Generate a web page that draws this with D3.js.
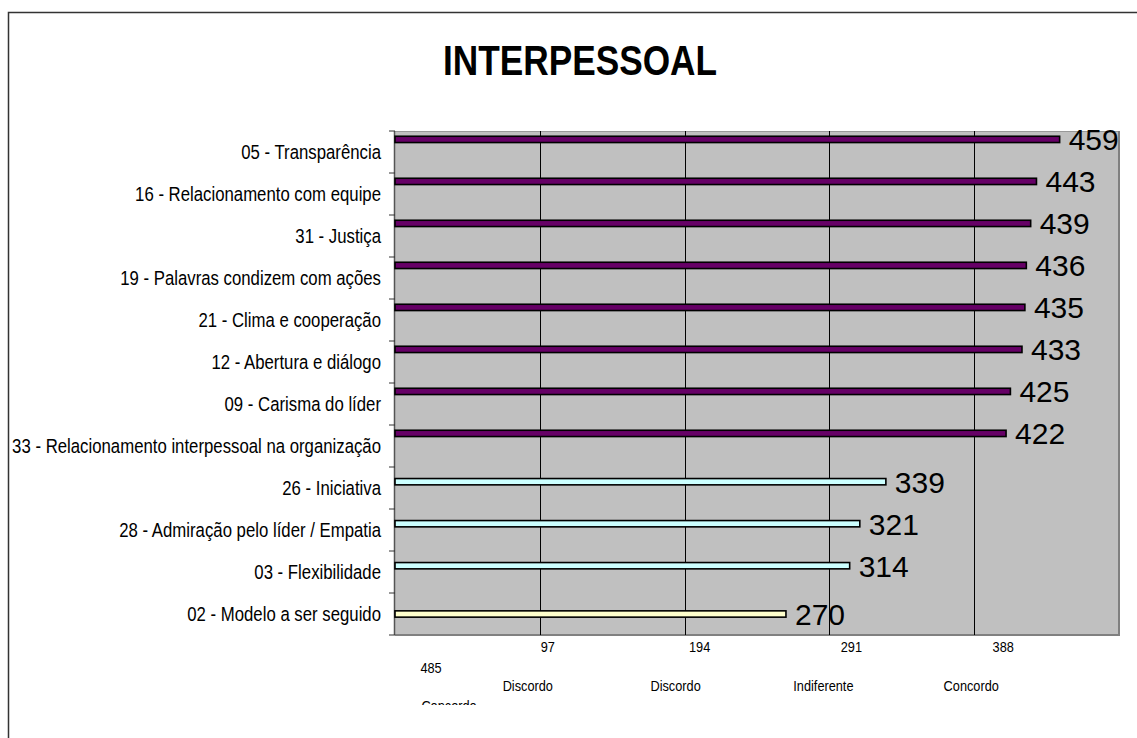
<!DOCTYPE html>
<html>
<head>
<meta charset="utf-8">
<script src="https://cdn.jsdelivr.net/npm/d3@7"></script>
<style>
  body { margin: 0; background: #fff; }
  svg { display: block; font-family: "Liberation Sans", Arial, sans-serif; }
</style>
</head>
<body>
<svg id="chart" width="1137" height="738"></svg>
<script>
// data
var categories = [
  "05 - Transparência",
  "16 - Relacionamento com equipe",
  "31 - Justiça",
  "19 - Palavras condizem com ações",
  "21 - Clima e cooperação",
  "12 - Abertura e diálogo",
  "09 - Carisma do líder",
  "33 - Relacionamento interpessoal na organização",
  "26 - Iniciativa",
  "28 - Admiração pelo líder / Empatia",
  "03 - Flexibilidade",
  "02 - Modelo a ser seguido"
];
var seriesKeys = ["s1", "s2", "s3", "s4", "s5"];
var seriesColors = ["#660066", "#CCFFFF", "#FFFFCC", "#FFFFFF", "#FFFFFF"];
// each category belongs to one series
var seriesOf = ["s1","s1","s1","s1","s1","s1","s1","s1","s2","s2","s2","s3"];
var values = [459, 443, 439, 436, 435, 433, 425, 422, 339, 321, 314, 270];
var gridValues = [100, 200, 300, 400];
var tickNumbers = ["97", "194", "291", "388"];
var tickWords = ["Discordo", "Discordo", "Indiferente", "Concordo"];
var lastNumber = "485";
var lastWord = "Concordo";

var svg = d3.select('#chart');

// chart frame (right/bottom edges fall outside the picture)
svg.append('rect')
  .attr('x', 8.5).attr('y', 12.5)
  .attr('width', 1300).attr('height', 900)
  .attr('fill', 'none').attr('stroke', '#333').attr('stroke-width', 1.5);

svg.append('text')
  .attr('x', 580).attr('y', 75)
  .attr('text-anchor', 'middle')
  .attr('font-size', 42).attr('font-weight', 'bold')
  .attr('textLength', 274).attr('lengthAdjust', 'spacingAndGlyphs')
  .text('INTERPESSOAL');

var L = 395, R = 1119, T = 131, B = 635;
var x = d3.scaleLinear().domain([0, 500]).range([L, R]);
var y = d3.scaleBand().domain(categories).range([T, B]).padding(0);
var bw = y.bandwidth();
var sub = d3.scaleBand().domain(seriesKeys).range([bw / 2 - 15.75, bw / 2 + 15.75]);

// plot area
svg.append('rect')
  .attr('x', L).attr('y', T).attr('width', R - L).attr('height', B - T)
  .attr('fill', '#C0C0C0');
svg.append('line').attr('x1', L).attr('x2', R).attr('y1', T + 0.5).attr('y2', T + 0.5)
  .attr('stroke', '#999');
svg.append('line').attr('x1', R).attr('x2', R).attr('y1', T).attr('y2', B)
  .attr('stroke', '#808080').attr('stroke-width', 2);
svg.append('line').attr('x1', L).attr('x2', R + 1).attr('y1', B).attr('y2', B)
  .attr('stroke', '#808080').attr('stroke-width', 2);

// gridlines
svg.selectAll('.grid').data(gridValues).enter().append('line')
  .attr('class', 'grid')
  .attr('x1', function(d){ return Math.round(x(d)) + 0.5; })
  .attr('x2', function(d){ return Math.round(x(d)) + 0.5; })
  .attr('y1', T).attr('y2', B)
  .attr('stroke', '#000').attr('stroke-width', 1);

// y axis line + ticks at band edges
svg.append('line').attr('x1', L - 0.5).attr('x2', L - 0.5).attr('y1', T).attr('y2', B)
  .attr('stroke', '#555').attr('stroke-width', 1.5);
var edges = categories.map(function(c){ return y(c); }).concat([B]);
svg.selectAll('.ytick').data(edges).enter().append('line')
  .attr('x1', L - 6).attr('x2', L)
  .attr('y1', function(d){ return d; }).attr('y2', function(d){ return d; })
  .attr('stroke', '#333').attr('stroke-width', 1);

// category labels (condensed like the original)
svg.selectAll('.cat').data(categories).enter().append('text')
  .attr('class', 'cat')
  .attr('transform', function(d){ return 'translate(381,' + (y(d) + bw / 2) + ') scale(0.86,1)'; })
  .attr('text-anchor', 'end').attr('dy', '0.35em')
  .attr('font-size', 19.5)
  .text(function(d){ return d; });

// bars
var rows = categories.map(function(c, i){ return {cat: c, val: values[i], s: seriesOf[i]}; });
svg.selectAll('.bar').data(rows).enter().append('rect')
  .attr('class', 'bar')
  .attr('x', x(0))
  .attr('y', function(d){ return y(d.cat) + sub(d.s); })
  .attr('width', function(d){ return x(d.val) - x(0); })
  .attr('height', sub.bandwidth())
  .attr('fill', function(d){ return seriesColors[seriesKeys.indexOf(d.s)]; })
  .attr('stroke', '#000').attr('stroke-width', 1.6);

// value labels
svg.selectAll('.val').data(rows).enter().append('text')
  .attr('class', 'val')
  .attr('x', function(d){ return x(d.val) + 9; })
  .attr('y', function(d){ return y(d.cat) + sub(d.s) + sub.bandwidth() / 2; })
  .attr('dy', '0.36em')
  .attr('font-size', 30)
  .text(function(d){ return d.val; });

// x labels (category axis text from the original sheet)
var xl = svg.append('g').attr('font-size', 15);
tickNumbers.forEach(function(t, i){
  var gx = x(gridValues[i]);
  xl.append('text')
    .attr('transform', 'translate(' + (gx + 8 + 7 * i) + ',652) scale(0.85,1)')
    .attr('text-anchor', 'middle').text(t);
  xl.append('text')
    .attr('transform', 'translate(' + (gx - 12 + 3 * i) + ',691) scale(0.85,1)')
    .attr('text-anchor', 'middle').text(tickWords[i]);
});
xl.append('text')
  .attr('transform', 'translate(' + (x(0) + 36) + ',673) scale(0.85,1)')
  .attr('text-anchor', 'middle').text(lastNumber);
svg.append('clipPath').attr('id', 'cut').append('rect')
  .attr('x', 400).attr('y', 690).attr('width', 200).attr('height', 15);
xl.append('g').attr('clip-path', 'url(#cut)')
  .append('text')
  .attr('transform', 'translate(' + (x(0) + 54) + ',711) scale(0.85,1)')
  .attr('text-anchor', 'middle').text(lastWord);
</script>
</body>
</html>
